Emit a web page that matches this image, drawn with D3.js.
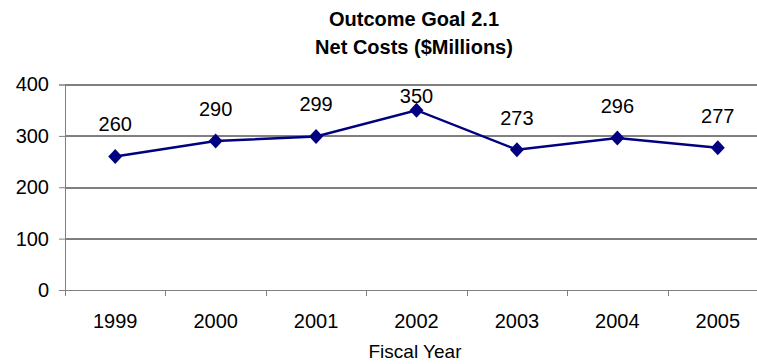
<!DOCTYPE html>
<html>
<head>
<meta charset="utf-8">
<script src="https://cdn.jsdelivr.net/npm/d3@7/dist/d3.min.js"></script>
<style>
  html, body { margin: 0; padding: 0; background: #fff; overflow: hidden; }
  svg { display: block; }
  svg text { font-family: "Liberation Sans", Arial, sans-serif; fill: #000; }
</style>
</head>
<body>
<div id="chart"></div>
<script>
const years = ['1999', '2000', '2001', '2002', '2003', '2004', '2005'];
const netCosts = [260, 290, 299, 350, 273, 296, 277];
const yTicks = [0, 100, 200, 300, 400];
const titleLines = ['Outcome Goal 2.1', 'Net Costs ($Millions)'];
const xLabel = 'Fiscal Year';

const width = 757;
const height = 364;
// plot area runs past the right edge, as in the cropped original
const margin = { top: 84.5, right: -11, bottom: 74, left: 65 };
const innerWidth = width - margin.left - margin.right;
const innerHeight = height - margin.top - margin.bottom;

const svg = d3.select('#chart').append('svg')
  .attr('width', width)
  .attr('height', height);

// title
svg.selectAll('.title')
  .data(titleLines)
  .enter().append('text')
  .attr('class', 'title')
  .attr('x', 414)
  .attr('y', (d, i) => 26 + i * 28)
  .attr('text-anchor', 'middle')
  .style('font-weight', 'bold')
  .style('font-size', '20px')
  .text(d => d);

const g = svg.append('g')
  .attr('transform', `translate(${margin.left},${margin.top})`);

const xScale = d3.scaleBand()
  .domain(years)
  .range([0, innerWidth])
  .padding(0);

const yScale = d3.scaleLinear()
  .domain([0, 400])
  .range([innerHeight, 0]);

// gridlines, clipped to the visible width
const visibleWidth = width - margin.left;

g.selectAll('.grid')
  .data(yTicks.filter(d => d > 0))
  .enter().append('line')
  .attr('class', 'grid')
  .attr('x1', 0)
  .attr('x2', visibleWidth)
  .attr('y1', d => Math.round(yScale(d)) + 0.5)
  .attr('y2', d => Math.round(yScale(d)) + 0.5)
  .attr('stroke', '#000')
  .attr('stroke-width', 1);

// y axis
const yAxis = d3.axisLeft(yScale)
  .tickValues(yTicks)
  .tickSize(6)
  .tickPadding(10)
  .tickFormat(d3.format('d'));

const yAxisG = g.append('g').call(yAxis);
yAxisG.select('.domain').attr('stroke', '#808080');
yAxisG.selectAll('.tick line').attr('stroke', '#808080');
yAxisG.selectAll('.tick text')
  .style('font-size', '20px')
  .attr('fill', '#000');

// x axis: ticks at band boundaries
const xAxisG = g.append('g')
  .attr('transform', `translate(0,${innerHeight})`);

xAxisG.append('line')
  .attr('x1', 0)
  .attr('x2', visibleWidth)
  .attr('y1', 0.5)
  .attr('y2', 0.5)
  .attr('stroke', '#808080');

xAxisG.selectAll('.xtick')
  .data(years.filter(d => xScale(d) < visibleWidth))
  .enter().append('line')
  .attr('class', 'xtick')
  .attr('x1', d => Math.round(xScale(d)) + 0.5)
  .attr('x2', d => Math.round(xScale(d)) + 0.5)
  .attr('y1', 0)
  .attr('y2', 6)
  .attr('stroke', '#808080');

xAxisG.selectAll('.xlabel')
  .data(years)
  .enter().append('text')
  .attr('class', 'xlabel')
  .attr('x', d => xScale(d) + xScale.bandwidth() / 2)
  .attr('y', 38)
  .attr('text-anchor', 'middle')
  .style('font-size', '20px')
  .text(d => d);

svg.append('text')
  .attr('x', 415)
  .attr('y', 358)
  .attr('text-anchor', 'middle')
  .style('font-size', '19px')
  .text(xLabel);

// line
const xPos = (d, i) => xScale(years[i]) + xScale.bandwidth() / 2;

const line = d3.line()
  .x(xPos)
  .y(d => yScale(d));

g.append('path')
  .datum(netCosts)
  .attr('fill', 'none')
  .attr('stroke', '#000080')
  .attr('stroke-width', 2.5)
  .attr('d', line);

g.selectAll('.marker')
  .data(netCosts)
  .enter().append('path')
  .attr('class', 'marker')
  .attr('transform', (d, i) => `translate(${xPos(d, i)},${yScale(d)})`)
  .attr('d', 'M0,-7.5L7,0L0,7.5L-7,0Z')
  .attr('fill', '#000080');

// data labels, kept inside the plot area
g.selectAll('.dlabel')
  .data(netCosts)
  .enter().append('text')
  .attr('class', 'dlabel')
  .attr('x', xPos)
  .attr('y', d => Math.max(yScale(d) - 25, 18))
  .attr('text-anchor', 'middle')
  .style('font-size', '20px')
  .text(d => d);
</script>
</body>
</html>
